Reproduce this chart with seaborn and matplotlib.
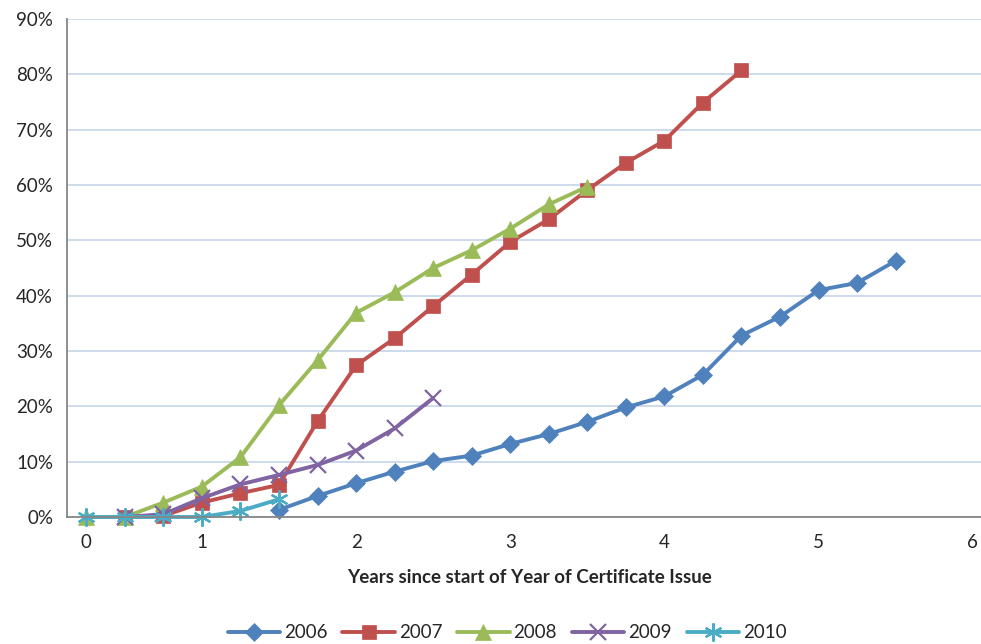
import numpy as np
import pandas as pd
import seaborn as sns
import matplotlib.pyplot as plt
from matplotlib.lines import Line2D
from matplotlib.ticker import FixedLocator, PercentFormatter

# category axis (Excel style line chart): 24 categories, only some labelled
cat_labels = ["0", "", "", "1", "", "", "", "2", "", "", "", "3",
              "", "", "", "4", "", "", "", "5", "", "", "", "6"]

# cumulative share (%) per cohort, values start at given category index
start_2006 = 5
y_2006 = [1.3, 3.8, 6.1, 8.2, 10.1, 11.1, 13.2, 15.0, 17.2, 19.8, 21.8,
          25.7, 32.8, 36.2, 41.0, 42.3, 46.3]
start_2007 = 1
y_2007 = [0, 0.2, 2.6, 4.3, 5.8, 17.3, 27.4, 32.3, 38.1, 43.8, 49.7,
          53.8, 59.1, 64.0, 68.0, 74.9, 80.7]
start_2008 = 0
y_2008 = [0, 0, 2.6, 5.5, 10.8, 20.2, 28.3, 36.9, 40.6, 45.0, 48.2,
          52.1, 56.5, 59.7]
start_2009 = 1
y_2009 = [0, 0.5, 3.4, 5.9, 7.6, 9.4, 12.0, 16.0, 21.5]
start_2010 = 0
y_2010 = [0, 0, 0, 0, 1.1, 3.2]

series = [
    ("2006", start_2006, y_2006, "#4F81BD", "D", 9.5),
    ("2007", start_2007, y_2007, "#C0504D", "s", 10),
    ("2008", start_2008, y_2008, "#9BBB59", "^", 11.5),
    ("2009", start_2009, y_2009, "#8064A2", "x", 11),
    ("2010", start_2010, y_2010, "#4BACC6", (6, 2, 0), 13),
]

sns.set_style("white")
plt.rcParams['font.family'] = ['Lato', 'DejaVu Sans']

fig = plt.figure(figsize=(9.81, 6.44), dpi=100)
ax = fig.add_axes([67 / 981, 127 / 644, 925 / 981, 498 / 644])

handles = []
for name, start, vals, col, mk, ms in series:
    mew = 1.6 if (mk == "x" or isinstance(mk, tuple)) else 0.5
    df = pd.DataFrame({"k": np.arange(start, start + len(vals)), "v": vals})
    sns.lineplot(data=df, x="k", y="v", ax=ax, color=col, lw=2.8,
                 marker=mk, markersize=ms, markeredgecolor=col,
                 markeredgewidth=mew, markerfacecolor=col, clip_on=False)
    handles.append(Line2D([], [], color=col, lw=2.8, marker=mk,
                          markersize=ms, markeredgecolor=col,
                          markeredgewidth=mew, markerfacecolor=col,
                          label=name))

ax.set_xlim(-0.5, len(cat_labels) - 0.5)
ax.set_ylim(0, 90)
ax.set_xticks(range(len(cat_labels)), labels=cat_labels)
ax.xaxis.set_minor_locator(FixedLocator(np.arange(-0.5, len(cat_labels), 1)))
ax.tick_params(axis="x", which="major", length=0, pad=12, labelsize=13.5)
ax.tick_params(axis="x", which="minor", length=5, width=1, color="#868686",
               direction="out")
ax.set_yticks(np.arange(0, 91, 10))
ax.yaxis.set_major_formatter(PercentFormatter(decimals=0))
ax.tick_params(axis="y", length=6, width=1, color="#868686", direction="out",
               labelsize=13.5, pad=4)
ax.grid(axis="y", color="#C8D8EC", lw=1.3)
ax.set_axisbelow(True)
for s in ["top", "right"]:
    ax.spines[s].set_visible(False)
for s in ["left", "bottom"]:
    ax.spines[s].set_color("#868686")
    ax.spines[s].set_linewidth(1.3)

ax.set_xlabel("Years since start of Year of Certificate Issue", fontsize=13.5,
              fontweight="bold", labelpad=13)
ax.set_ylabel("")

fig.legend(handles=handles, loc="center", bbox_to_anchor=(0.517, 11 / 644),
           bbox_transform=fig.transFigure, ncol=5, frameon=False,
           fontsize=13.5, handlelength=2.8, handletextpad=0.2,
           columnspacing=0.8)

fig.savefig("out.png", dpi=100)
